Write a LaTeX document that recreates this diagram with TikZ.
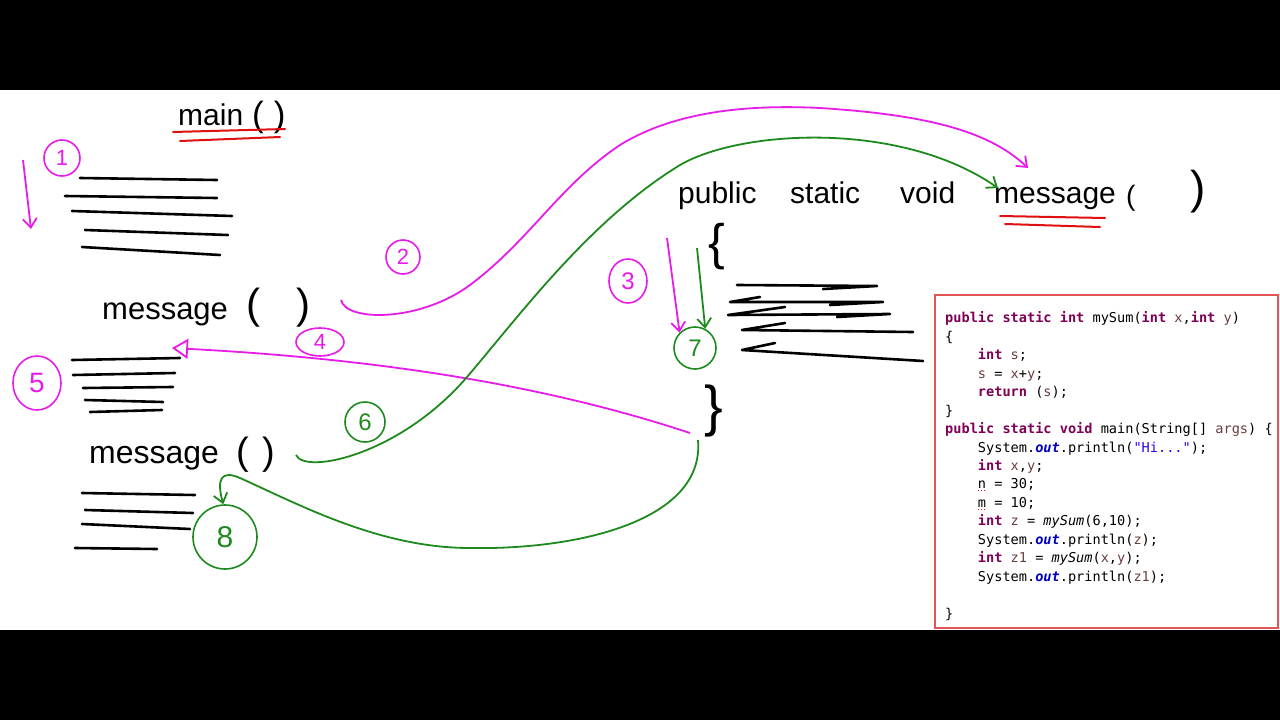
\documentclass[tikz,border=0pt]{standalone}
\usepackage{fontspec}
\setmainfont{Liberation Sans}
\newfontfamily\codefont{DejaVu Sans Mono}
\usetikzlibrary{arrows.meta,shapes.geometric}
\definecolor{mag}{HTML}{E81CE8}
\definecolor{grn}{HTML}{1E8A1E}
\definecolor{redl}{HTML}{E01010}
\definecolor{boxred}{HTML}{E05555}
\definecolor{kwc}{HTML}{7F0055}
\definecolor{vrc}{HTML}{6A3E3E}
\definecolor{strc}{HTML}{2A00FF}
\definecolor{outc}{HTML}{0000C0}
\newcommand\kw[1]{\textcolor{kwc}{\bfseries #1}}
\newcommand\vr[1]{\textcolor{vrc}{#1}}
\newcommand\strl[1]{\textcolor{strc}{#1}}
\newcommand\outk{\textcolor{outc}{\bfseries\itshape out}}
\newcommand\ind{\hspace*{32.75pt}}
\newcommand\fs[1]{\fontsize{#1}{#1}\selectfont}
\begin{document}
\begin{tikzpicture}[x=1pt,y=-1pt,
  hand/.style={font=\fs{30}, inner sep=0, anchor=base west, text=black},
  scrib/.style={line width=2.6pt, line cap=round, line join=round, black},
  redu/.style={line width=2pt, line cap=round, redl},
  magc/.style={draw=mag, text=mag, circle, line width=1.6pt, minimum size=34pt, inner sep=0, font=\fs{22}},
  grnc/.style={draw=grn, text=grn, circle, line width=1.6pt, minimum size=40pt, inner sep=0, font=\fs{24}},
  mline/.style={draw=mag, line width=1.8pt},
  gline/.style={draw=grn, line width=1.8pt},
  vtip/.style={-{Straight Barb[length=9pt,width=14pt,line width=1.8pt]}}
]
\useasboundingbox (0,0) rectangle (1280,720);
\fill[black] (0,0) rectangle (1280,720);
\fill[white] (0,90) rectangle (1280,630);

% ---- main()
\node[hand] (mainw) at (178,125) {main};
\node[hand, font=\fs{35}] (mainp) at (252,126) {(\hspace{10pt})};
\draw[redu] (173,132) -- (285,129);
\draw[redu] (180,141) -- (280,137);

% step 1
\node[magc, minimum size=36pt] (c1) at (62,158) {1};
\coordinate (a1s) at (23,160);
\coordinate (a1e) at (31,229);
\draw[mline, vtip] (a1s) -- (a1e);

% body lines of main
\draw[scrib] (80,178) -- (217,180);
\draw[scrib] (65,196) -- (217,198);
\draw[scrib] (72,211) -- (232,216);
\draw[scrib] (85,230) -- (228,235);
\draw[scrib] (82,247) -- (220,255);

% message ( ) first call
\node[hand, font=\fs{31}] (msg1) at (102,319) {message};
\node[hand, font=\fs{42}] (msg1p) at (246,318) {(\hspace{36pt})};

% step 2
\node[magc] (c2) at (403,257) {2};
\coordinate (p2s) at (341,300);
\coordinate (p2e) at (1028,168);
\draw[mline, vtip] (p2s) .. controls (346,322) and (420,322) .. (470,285)
  .. controls (530,240) and (560,185) .. (620,145)
  .. controls (680,108) and (760,105) .. (820,108)
  .. controls (930,115) and (990,132) .. (p2e);

% public static void message( )
\node[hand] (pub) at (678,203) {public};
\node[hand] (stat) at (790,203) {static};
\node[hand] (void) at (900,203) {void};
\node[hand] (msgd) at (994,203) {message};
\node[hand, font=\fs{28}] (lp) at (1126,205) {(};
\node[hand, font=\fs{46}] (rp) at (1190,203) {)};
\draw[redu] (1000,216) -- (1105,218);
\draw[redu] (1005,224) -- (1100,227);

\node[hand, font=\fs{50}] (lbr) at (708,259) {\{};
\node[hand, font=\fs{56}] (rbr) at (704,425) {\}};

% step 3 and 7
\node[magc, minimum width=38pt, minimum height=44pt, ellipse, font=\fs{24}] (c3) at (628,281) {3};
\node[grnc, minimum size=42pt] (c7) at (695,348) {7};
\coordinate (a3s) at (667,238);
\coordinate (a7s) at (697,248);
\draw[mline, vtip] (a3s) -- (c7.north west);
\draw[gline, vtip] (a7s) -- (c7.62);

% body scribbles of message()
\draw[scrib] (737,285) -- (877,286) -- (823,289);
\draw[scrib] (760,297) -- (730,302) -- (883,302) -- (830,305);
\draw[scrib] (785,307) -- (728,315) -- (890,314) -- (837,317);
\draw[scrib] (785,323) -- (742,330) -- (913,332);
\draw[scrib] (775,343) -- (742,350) -- (923,361);

% step 4
\node[magc, ellipse, minimum width=48pt, minimum height=28pt] (c4) at (320,342) {4};
\coordinate (p4s) at (690,433);
\coordinate (p4e) at (172,348);
\draw[mline, -{Triangle[open,length=16pt,width=20pt,line width=1.8pt]}] (p4s) .. controls (560,390) and (400,360) .. (p4e);

% step 5
\node[magc, ellipse, minimum width=48pt, minimum height=54pt, font=\fs{28}] (c5) at (37,383) {5};
\draw[scrib] (72,360) -- (180,358);
\draw[scrib] (73,375) -- (175,373);
\draw[scrib] (83,388) -- (173,387);
\draw[scrib] (85,400) -- (163,402);
\draw[scrib] (90,412) -- (162,410);

% message ( ) second call
\node[hand, font=\fs{32}] (msg2) at (89,463) {message};
\node[hand, font=\fs{38}] (msg2p) at (236,464) {(\hspace{14pt})};

% step 6
\node[grnc] (c6) at (365,422) {6};
\coordinate (g6s) at (296,455);
\coordinate (g6e) at (998,188);
\draw[gline, vtip] (g6s) .. controls (305,475) and (400,455) .. (467,377)
  .. controls (520,315) and (590,220) .. (680,165)
  .. controls (740,130) and (900,120) .. (g6e);

% step 8
\node[grnc, minimum size=64pt, font=\fs{30}] (c8) at (225,537) {8};
\coordinate (g8s) at (698,440);
\draw[gline, vtip] (g8s) .. controls (705,520) and (580,550) .. (470,548)
  .. controls (380,548) and (300,505) .. (240,478)
  .. controls (222,470) and (216,478) .. (c8.93);
\draw[scrib] (82,493) -- (195,495);
\draw[scrib] (85,510) -- (193,513);
\draw[scrib] (82,524) -- (190,529);
\draw[scrib] (75,548) -- (157,549);

% code box
\draw[boxred, line width=2pt] (935,295) rectangle (1278,628);
\node[anchor=base west, align=left, inner sep=0, font=\codefont\fontsize{13.6}{18.44}\selectfont] (code) at (945,618) {%
\kw{public} \kw{static} \kw{int} mySum(\kw{int} \vr{x},\kw{int} \vr{y})\\
\{\\
\ind\kw{int} \vr{s};\\
\ind\vr{s} = \vr{x}+\vr{y};\\
\ind\kw{return} (\vr{s});\\
\}\\
\kw{public} \kw{static} \kw{void} main(String[] \vr{args}) \{\\
\ind System.\outk.println(\strl{"Hi..."});\\
\ind\kw{int} \vr{x},\vr{y};\\
\ind n = 30;\\
\ind m = 10;\\
\ind\kw{int} \vr{z} = \textit{mySum}(6,10);\\
\ind System.\outk.println(\vr{z});\\
\ind\kw{int} \vr{z1} = \textit{mySum}(\vr{x},\vr{y});\\
\ind System.\outk.println(\vr{z1});\\
\mbox{}\\
\}};
\draw[redl, dotted, line width=0.8pt] (978,490) -- (986,490);
\draw[redl, dotted, line width=0.8pt] (978,509) -- (986,509);
\end{tikzpicture}
\end{document}
